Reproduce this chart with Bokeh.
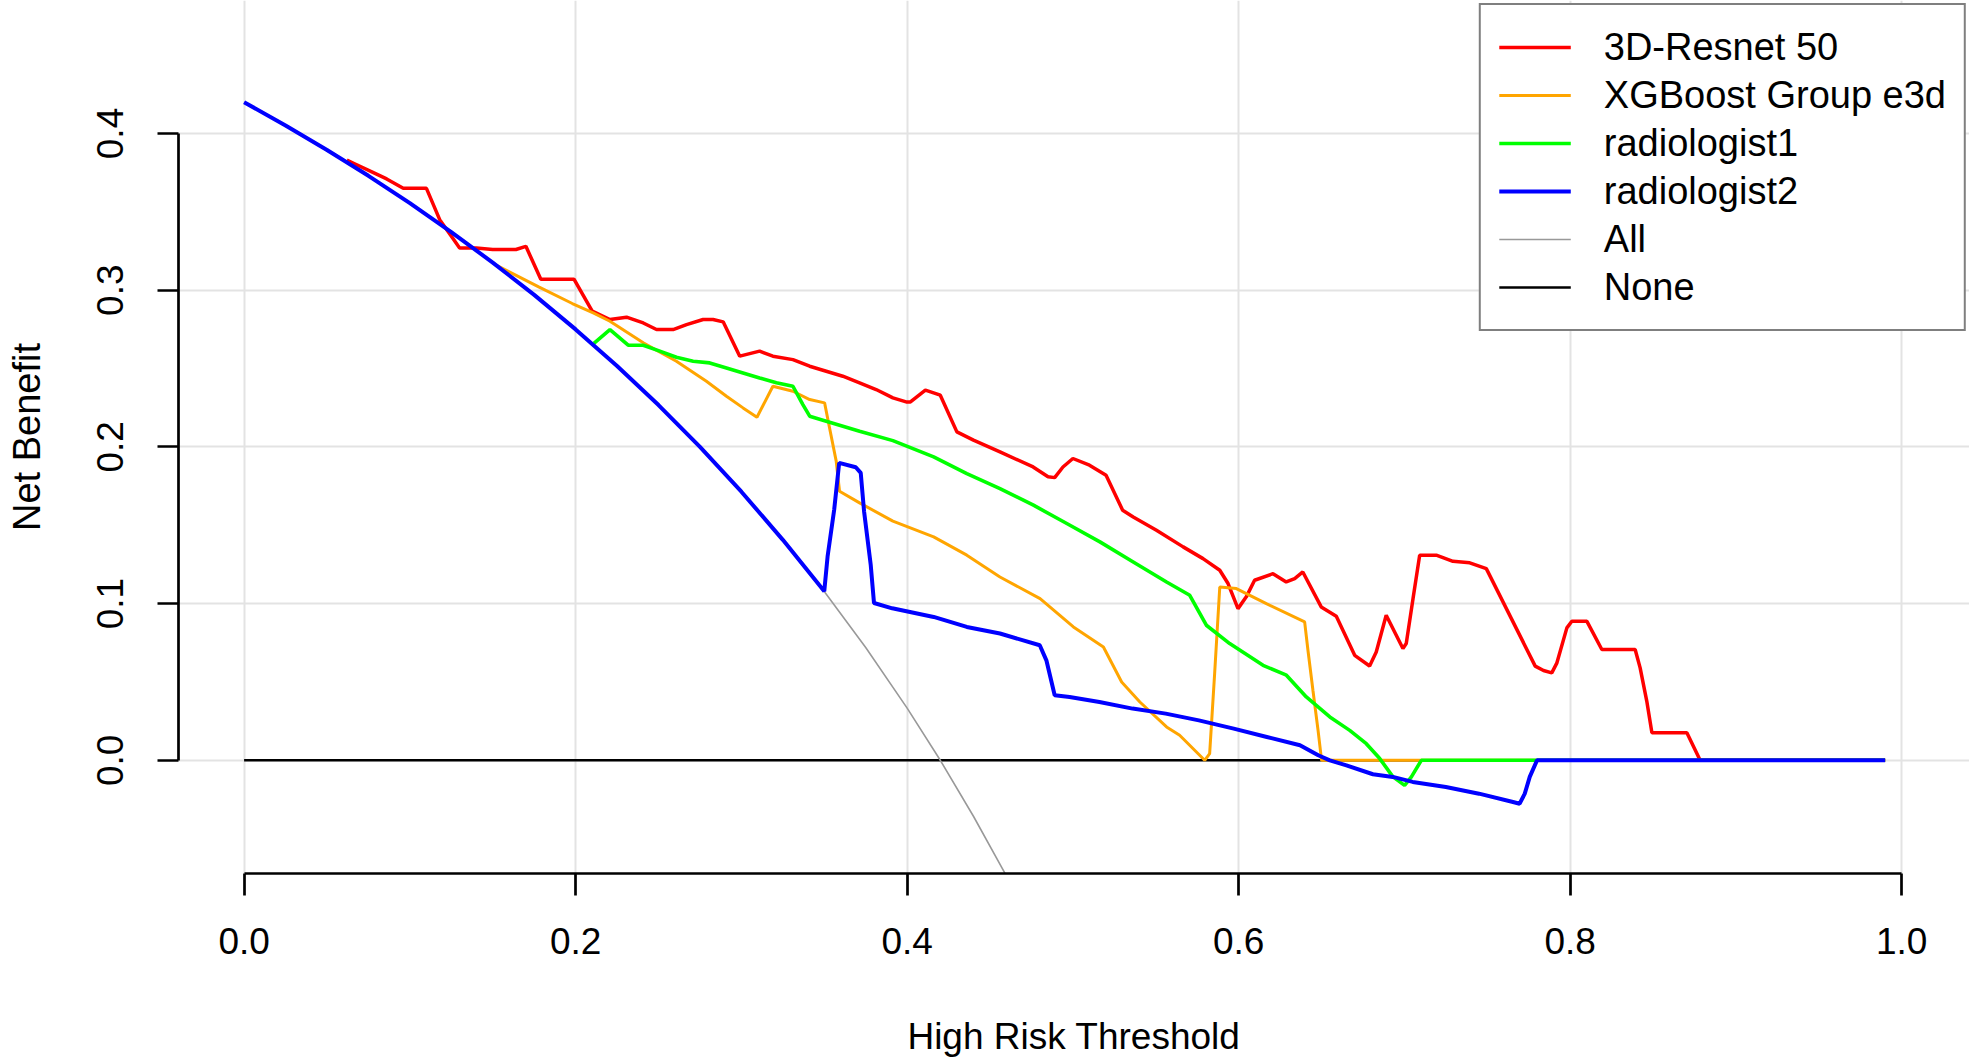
import math
from bokeh.plotting import figure
from bokeh.models import FixedTicker, PrintfTickFormatter, Legend, LegendItem, Range1d
from bokeh.embed import file_html
from bokeh.resources import INLINE

# ---------------- data ----------------
series_names = ["3D-Resnet 50", "XGBoost Group e3d", "radiologist1", "radiologist2", "All", "None"]
x_ticks = [0.0, 0.2, 0.4, 0.6, 0.8, 1.0]
y_ticks = [0.0, 0.1, 0.2, 0.3, 0.4]

resnet_x = [0.062, 0.066, 0.078, 0.086, 0.096, 0.110, 0.118, 0.126, 0.130, 0.140, 0.150, 0.164, 0.170,
            0.179, 0.199, 0.210, 0.2207, 0.2307, 0.2408, 0.2488, 0.2588, 0.2669, 0.2769, 0.2829, 0.289,
            0.299, 0.311, 0.319, 0.3311, 0.3412, 0.3512, 0.3612, 0.3713, 0.3813, 0.3914, 0.3994, 0.402,
            0.411, 0.420, 0.430, 0.440, 0.456, 0.476, 0.485, 0.489, 0.494, 0.500, 0.510, 0.520, 0.530,
            0.5364, 0.5504, 0.5665, 0.5785, 0.5886, 0.5936, 0.5996, 0.6046, 0.6096, 0.6207, 0.6287,
            0.6338, 0.6387, 0.6498, 0.6589, 0.670, 0.679, 0.683, 0.689, 0.6991, 0.7011, 0.7052, 0.7092,
            0.7192, 0.7293, 0.7394, 0.7494, 0.7789, 0.7839, 0.7889, 0.792, 0.798, 0.801, 0.8101, 0.8191,
            0.8392, 0.8422, 0.8462, 0.8493, 0.8704, 0.8784, 0.99]
resnet_nb = [0.383, 0.381, 0.375, 0.371, 0.365, 0.365, 0.345, 0.333, 0.327, 0.327, 0.326, 0.326, 0.328,
             0.307, 0.307, 0.2866, 0.2813, 0.2828, 0.2791, 0.2749, 0.2749, 0.278, 0.2813, 0.2813, 0.2798,
             0.2579, 0.2611, 0.2579, 0.2557, 0.2515, 0.2483, 0.2451, 0.2409, 0.2366, 0.2313, 0.2287, 0.2287,
             0.2362, 0.233, 0.2096, 0.2043, 0.1968, 0.1872, 0.1809, 0.1804, 0.1872, 0.1926, 0.1883, 0.1819,
             0.1596, 0.1553, 0.1468, 0.1362, 0.1287, 0.1213, 0.1128, 0.0968, 0.1043, 0.1149, 0.1191, 0.1138,
             0.116, 0.1202, 0.0979, 0.0919, 0.067, 0.0602, 0.0691, 0.0926, 0.0713, 0.0745, 0.1032, 0.1309,
             0.1309, 0.127, 0.126, 0.1223, 0.0601, 0.0573, 0.0558, 0.0622, 0.0845, 0.0887, 0.0887, 0.0707,
             0.0707, 0.059, 0.0378, 0.0176, 0.0176, 0.0, 0.0]

xgb_x = [0.152, 0.178, 0.198, 0.2106, 0.2207, 0.2408, 0.2608, 0.2789, 0.291, 0.301, 0.3094, 0.319, 0.3311,
         0.3412, 0.3502, 0.3532, 0.3572, 0.3592, 0.3713, 0.3914, 0.416, 0.436, 0.456, 0.4802, 0.5003,
         0.5184, 0.5294, 0.5404, 0.5565, 0.5644, 0.5795, 0.5825, 0.5855, 0.5886, 0.5986, 0.6167, 0.6398,
         0.6418, 0.6448, 0.6479, 0.6499, 0.65, 0.99]
xgb_nb = [0.316, 0.302, 0.2915, 0.2855, 0.2802, 0.2664, 0.2547, 0.2419, 0.2323, 0.2249, 0.2189, 0.2387, 0.2355,
          0.2302, 0.2281, 0.2121, 0.1909, 0.1717, 0.1643, 0.1526, 0.1426, 0.1309, 0.117, 0.1032, 0.0851,
          0.0723, 0.05, 0.0372, 0.0213, 0.016, 0.0, 0.0043, 0.0553, 0.1106, 0.1096, 0.1, 0.0883,
          0.0702, 0.0447, 0.0191, 0.0011, 0.0, 0.0]

rad1_x = [0.211, 0.2207, 0.2317, 0.2408, 0.2508, 0.2608, 0.2709, 0.2809, 0.291, 0.301, 0.311, 0.3211, 0.3311,
          0.3371, 0.3412, 0.3512, 0.3713, 0.3914, 0.416, 0.436, 0.456, 0.4762, 0.4963, 0.5163, 0.5364,
          0.5565, 0.5705, 0.5805, 0.5946, 0.6147, 0.6288, 0.6408, 0.655, 0.667, 0.677, 0.6851, 0.6931,
          0.7001, 0.7042, 0.7102, 0.99]
rad1_nb = [0.266, 0.2749, 0.2649, 0.2649, 0.2611, 0.2572, 0.2547, 0.2536, 0.2504, 0.2472, 0.244, 0.2409, 0.2387,
           0.227, 0.2196, 0.2164, 0.21, 0.204, 0.1936, 0.183, 0.1734, 0.1628, 0.1511, 0.1394, 0.1266,
           0.1138, 0.1053, 0.0862, 0.0745, 0.0606, 0.0543, 0.0404, 0.0277, 0.0191, 0.0106, 0.0011, -0.0106,
           -0.016, -0.0106, 0.0, 0.0]

rad2_x = [0.0, 0.025, 0.05, 0.075, 0.10, 0.125, 0.15, 0.175, 0.20, 0.225, 0.25, 0.275, 0.30, 0.325, 0.350,
          0.352, 0.356, 0.359, 0.369, 0.372, 0.374, 0.378, 0.380, 0.391, 0.416, 0.436, 0.456, 0.480, 0.484,
          0.489, 0.498, 0.516, 0.536, 0.556, 0.576, 0.597, 0.617, 0.637, 0.648, 0.655, 0.665, 0.681, 0.693,
          0.705, 0.725, 0.745, 0.7655, 0.7695, 0.7726, 0.7756, 0.780, 0.99]
rad2_nb = [0.420, 0.4051, 0.3895, 0.373, 0.3556, 0.3371, 0.3176, 0.297, 0.275, 0.2516, 0.2267, 0.200, 0.1714,
           0.1407, 0.1079, 0.130, 0.160, 0.1898, 0.187, 0.1834, 0.159, 0.125, 0.1004, 0.097, 0.0915, 0.0851,
           0.0809, 0.0734, 0.0638, 0.0415, 0.0404, 0.0372, 0.033, 0.0298, 0.0255, 0.0202, 0.0149, 0.0096,
           0.0032, 0.0, -0.0032, -0.0089, -0.0106, -0.0138, -0.017, -0.0213, -0.0266, -0.0277, -0.0213,
           -0.0106, 0.0, 0.0]

all_x = [0.0, 0.025, 0.05, 0.075, 0.10, 0.125, 0.15, 0.175, 0.20, 0.225, 0.25, 0.275, 0.30, 0.325, 0.35,
         0.375, 0.40, 0.42, 0.44, 0.46]
all_nb = [0.420, 0.4051, 0.3895, 0.373, 0.3556, 0.3371, 0.3176, 0.297, 0.275, 0.2516, 0.2267, 0.200, 0.1714,
          0.1407, 0.1077, 0.072, 0.0333, 0.0, -0.0357, -0.074]

none_x = [0.0, 0.99]
none_nb = [0.0, 0.0]

# ---------------- figure ----------------
FONT = "Liberation Sans"
p = figure(width=1969, height=1060, output_backend="svg", toolbar_location=None,
           x_range=Range1d(-0.03958, 1.04090), y_range=Range1d(-0.07224, 0.48488),
           min_border_left=178, min_border_right=0, min_border_top=0, min_border_bottom=187,
           x_axis_label="High Risk Threshold", y_axis_label="Net Benefit")
p.outline_line_color = None
p.background_fill_color = "white"

for ax, ticks, bounds in ((p.xaxis, x_ticks, (0, 1)), (p.yaxis, y_ticks, (0, 0.4))):
    ax.ticker = FixedTicker(ticks=ticks)
    ax.formatter = PrintfTickFormatter(format="%.1f")
    ax.bounds = bounds
    ax.axis_line_width = 2.7
    ax.axis_line_color = "black"
    ax.major_tick_line_width = 2.7
    ax.major_tick_line_color = "black"
    ax.major_tick_in = 0
    ax.minor_tick_line_color = None
    ax.major_label_text_font = FONT
    ax.major_label_text_font_size = "37px"
    ax.major_label_text_color = "black"
    ax.axis_label_text_font = FONT
    ax.axis_label_text_font_style = "normal"
    ax.axis_label_text_color = "black"

p.xaxis.major_tick_out = 22
p.xaxis.major_label_standoff = 32
p.xaxis.axis_label_text_font_size = "37px"
p.xaxis.axis_label_standoff = 59
p.yaxis.major_tick_out = 21
p.yaxis.major_label_standoff = 34
p.yaxis.major_label_orientation = "parallel"
p.yaxis.axis_label_text_font_size = "38px"
p.yaxis.axis_label_standoff = 47

p.xgrid.ticker = FixedTicker(ticks=x_ticks)
p.ygrid.ticker = FixedTicker(ticks=y_ticks)
for g in (p.xgrid, p.ygrid):
    g.grid_line_color = "#e3e3e3"
    g.grid_line_width = 2

r_none = p.line(none_x, none_nb, line_color="black", line_width=2.5)
r_all = p.line(all_x, all_nb, line_color="#999999", line_width=1.6)
r_res = p.line(resnet_x, resnet_nb, line_color="#FF0000", line_width=3.5)
r_xgb = p.line(xgb_x, xgb_nb, line_color="#FFA500", line_width=3)
r_r1 = p.line(rad1_x, rad1_nb, line_color="#00FF00", line_width=3.6)
r_r2 = p.line(rad2_x, rad2_nb, line_color="#0000FF", line_width=4)

legend = Legend(items=[LegendItem(label=n, renderers=[r]) for n, r in
                       zip(series_names, [r_res, r_xgb, r_r1, r_r2, r_all, r_none])],
                location="top_right", margin=3, padding=18, spacing=0,
                glyph_width=72, glyph_height=48, label_height=48, label_standoff=33,
                label_text_font=FONT, label_text_font_size="38px", label_text_color="black",
                border_line_color="black", border_line_width=2.5,
                background_fill_color="white", background_fill_alpha=1.0)
p.add_layout(legend)

open("out.html", "w").write(file_html(p, INLINE))
